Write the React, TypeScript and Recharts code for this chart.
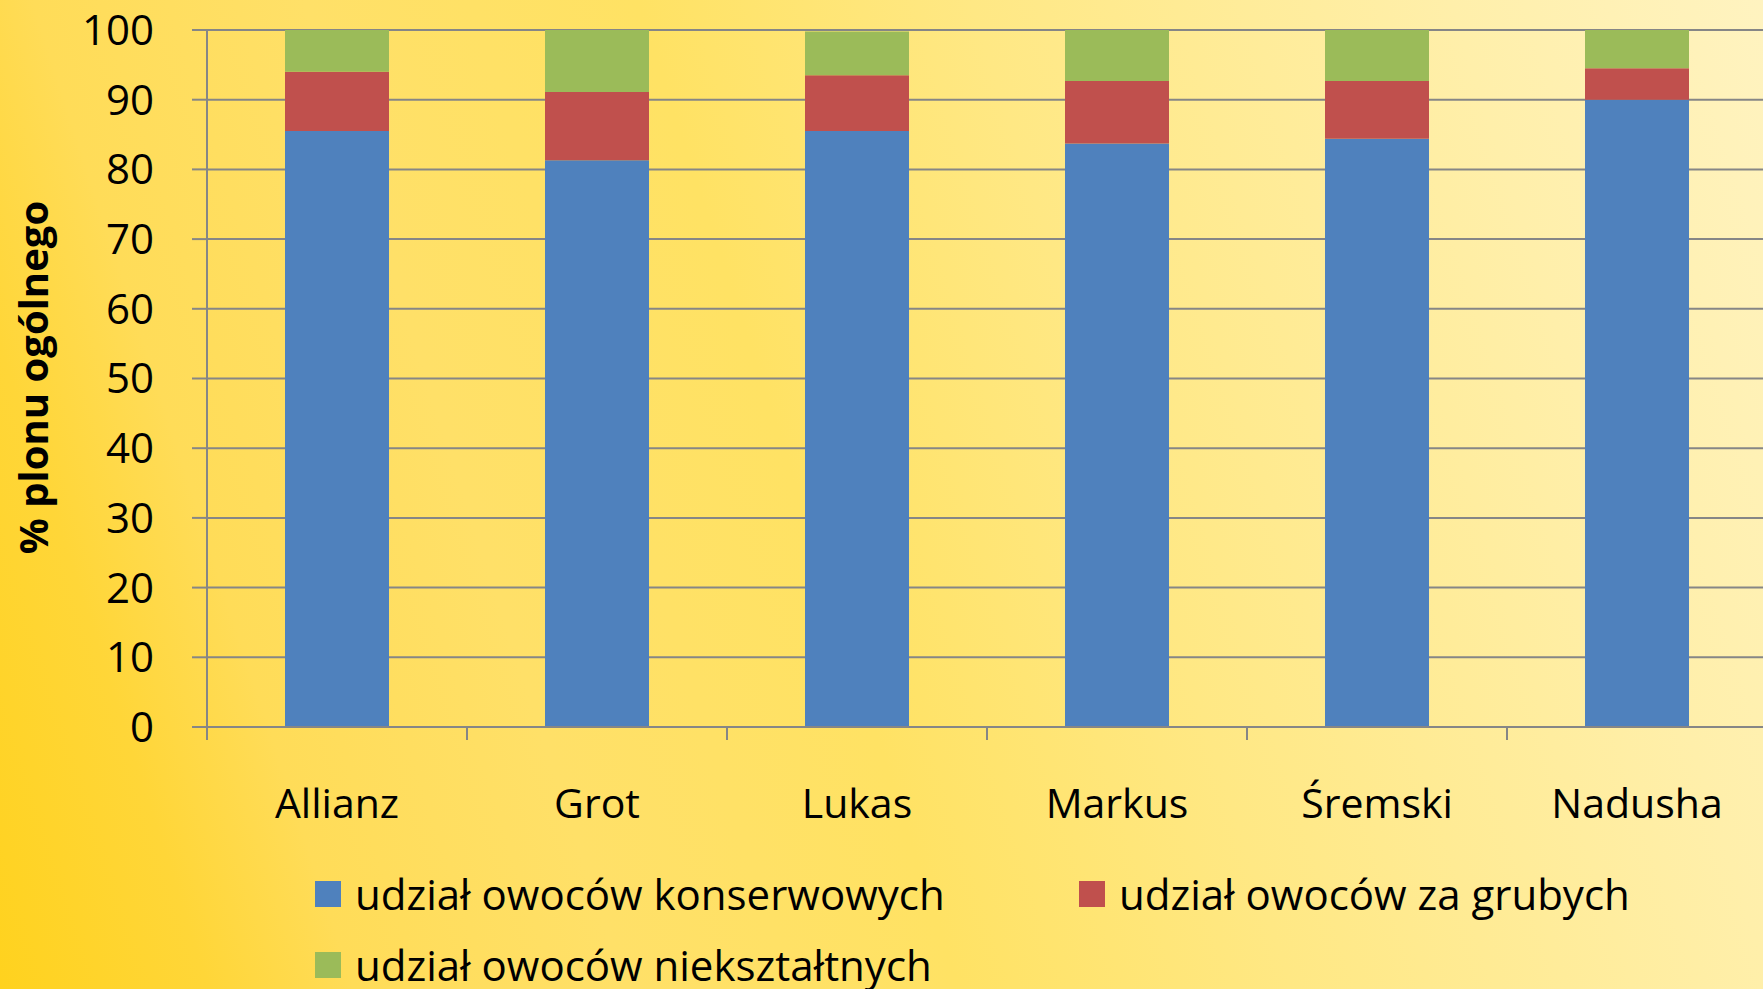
import React from 'react';
import { BarChart, Bar, XAxis, YAxis, CartesianGrid, Legend, Label } from 'recharts';

const categories = ['Allianz', 'Grot', 'Lukas', 'Markus', 'Śremski', 'Nadusha'];
const konserwowe = [85.5, 81.3, 85.5, 83.7, 84.4, 90.0];
const zaGrube = [8.5, 9.8, 8.0, 9.0, 8.3, 4.5];
const nieksztaltne = [6.0, 8.9, 6.3, 7.3, 7.3, 5.5];
const yTicks = [0, 10, 20, 30, 40, 50, 60, 70, 80, 90, 100];
const seriesKeys = ['k', 'g', 'n'];
const seriesNames = ['udział owoców konserwowych', 'udział owoców za grubych', 'udział owoców niekształtnych'];
const seriesColors = ['#4F81BD', '#C0504D', '#9BBB59'];
const yAxisTitle = '% plonu ogólnego';

const data = categories.map((c, i) => ({ name: c, k: konserwowe[i], g: zaGrube[i], n: nieksztaltne[i] }));

const FONT = '"Open Sans", sans-serif';
const GRID = '#868686';

const XTick = (props: any) => {
  const { x, y, payload } = props;
  const half = payload && typeof payload.offset === 'number' ? payload.offset : 130;
  return (
    <g>
      <line x1={x - half} y1={y - 13} x2={x - half} y2={y} stroke={GRID} strokeWidth={2} />
      <text x={x} y={y + 78} textAnchor="middle" fill="#000" fontFamily={FONT} fontSize={41}>
        {payload.value}
      </text>
    </g>
  );
};

const YTitle = (props: any) => {
  const vb = props.viewBox || { x: 0, y: 30, width: 207, height: 697 };
  const cx = 32;
  const cy = vb.y + vb.height / 2 - 1;
  return (
    <text
      x={cx}
      y={cy}
      transform={`rotate(-90, ${cx}, ${cy})`}
      textAnchor="middle"
      dominantBaseline="central"
      fontFamily={FONT}
      fontWeight="bold"
      fontSize={40}
      fill="#000"
    >
      {yAxisTitle}
    </text>
  );
};

const LegendContent = () => (
  <div
    style={{
      display: 'grid',
      gridTemplateColumns: '764px 620px',
      gridAutoRows: '71px',
      paddingLeft: 315,
      fontFamily: FONT,
      fontSize: 42,
      color: '#000',
    }}
  >
    {seriesNames.map((nm, i) => (
      <div key={nm} style={{ display: 'flex', alignItems: 'center', whiteSpace: 'nowrap' }}>
        <span style={{ display: 'inline-block', width: 26, height: 26, background: seriesColors[i], marginRight: 14 }} />
        <span>{nm}</span>
      </div>
    ))}
  </div>
);

export default function App() {
  return (
    <div
      style={{
        position: 'absolute',
        left: 0,
        top: 0,
        width: 1763,
        height: 989,
        overflow: 'hidden',
        background:
          'linear-gradient(72deg, #FFD21E 0%, #FFD638 10%, #FFDC58 17%, #FFE068 30%, #FFE264 46%, #FFE884 62%, #FFEFAA 85%, #FFF3C0 100%)',
      }}
    >
      <BarChart
        width={1767}
        height={989}
        data={data}
        margin={{ top: 30, right: 0, bottom: 162, left: 0 }}
        barCategoryGap="30%"
      >
        <CartesianGrid vertical={false} stroke={GRID} strokeWidth={2} />
        <XAxis
          dataKey="name"
          height={100}
          interval={0}
          tickSize={13}
          tickMargin={0}
          tickLine={false}
          axisLine={{ stroke: GRID, strokeWidth: 2 }}
          tick={<XTick />}
        />
        <YAxis
          width={207}
          domain={[0, 100]}
          ticks={yTicks}
          interval={0}
          tickSize={15}
          tickMargin={38}
          axisLine={{ stroke: GRID, strokeWidth: 2 }}
          tickLine={{ stroke: GRID, strokeWidth: 2 }}
          tick={{ fill: '#000', fontFamily: FONT, fontSize: 42 }}
        >
          <Label content={<YTitle />} />
        </YAxis>
        <Legend
          layout="horizontal"
          verticalAlign="middle"
          align="center"
          wrapperStyle={{ top: 858, left: 0, width: 1763 }}
          content={<LegendContent />}
        />
        {seriesKeys.map((k, i) => (
          <Bar key={k} dataKey={k} name={seriesNames[i]} stackId="a" fill={seriesColors[i]} isAnimationActive={false} />
        ))}
      </BarChart>
    </div>
  );
}
